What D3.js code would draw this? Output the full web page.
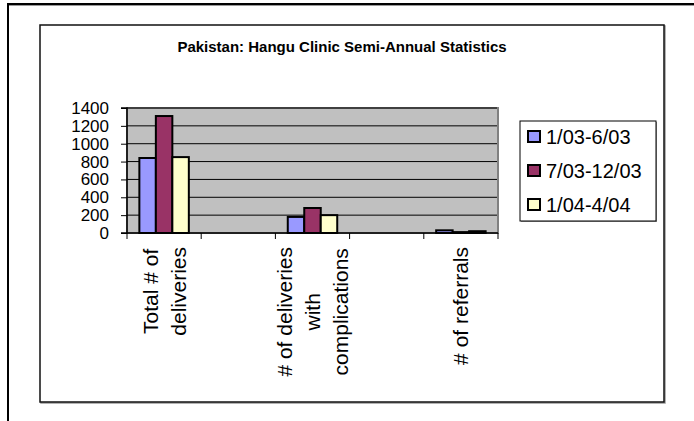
<!DOCTYPE html>
<html><head><meta charset="utf-8">
<script src="https://cdn.jsdelivr.net/npm/d3@7"></script>
<style>body{margin:0;background:#fff;} svg{display:block;font-family:Arial,"Liberation Sans",sans-serif;}</style>
</head><body>
<svg id="c" width="694" height="421"></svg>
<script>
const title = "Pakistan: Hangu Clinic Semi-Annual Statistics";
const categories = ["Total # of\ndeliveries", "gap1", "# of deliveries\nwith\ncomplications", "gap2", "# of referrals"];
const categoryLabels = [["Total # of","deliveries"], [], ["# of deliveries","with","complications"], [], ["# of referrals"]];
const seriesNames = ["1/03-6/03", "7/03-12/03", "1/04-4/04"];
const seriesColors = ["#9999FF", "#993366", "#FFFFCC"];
const values1 = [840, null, 180, null, 30];
const values2 = [1310, null, 280, null, 10];
const values3 = [850, null, 200, null, 20];
const yTicks = [0, 200, 400, 600, 800, 1000, 1200, 1400];

const seriesValues = [values1, values2, values3];
const svg = d3.select("#c");

// outer frame
svg.append("line").attr("x1",8).attr("y1",5).attr("x2",694).attr("y2",5).attr("stroke","#999").attr("stroke-width",2);
svg.append("line").attr("x1",8).attr("y1",4).attr("x2",694).attr("y2",4).attr("stroke","#000").attr("stroke-width",2);
svg.append("line").attr("x1",8).attr("y1",3).attr("x2",8).attr("y2",421).attr("stroke","#000").attr("stroke-width",2);

// inner chart box
svg.append("rect").attr("x",41).attr("y",26).attr("width",624).attr("height",377).attr("fill","none").attr("stroke","#999").attr("stroke-width",1.5);
svg.append("rect").attr("x",40).attr("y",25).attr("width",624).attr("height",377).attr("fill","#fff").attr("stroke","#111").attr("stroke-width",1.5);

// title
svg.append("text").attr("x",342).attr("y",52).attr("text-anchor","middle")
  .attr("font-size",15).attr("font-weight","bold").text(title);

const L = 127, R = 498, T = 108, B = 233;
const x0 = d3.scaleBand().domain(categories).range([L, R]).paddingInner(0).paddingOuter(0);
const bw = x0.bandwidth();
const x1 = d3.scaleBand().domain(seriesNames).range([bw/6, bw*5/6]).padding(0);
const y = d3.scaleLinear().domain([0, 1400]).range([B, T]);

// plot area
svg.append("rect").attr("x",L).attr("y",T).attr("width",R-L).attr("height",B-T)
  .attr("fill","#C0C0C0").attr("stroke","#808080").attr("stroke-width",2);

// gridlines
svg.append("g").selectAll("line").data(yTicks.filter(d=>d>0)).join("line")
  .attr("x1",L).attr("x2",R-1).attr("y1",d=>y(d)).attr("y2",d=>y(d))
  .attr("stroke","#000").attr("stroke-width",1);

// bars
const rows = [];
categories.forEach((c,i)=>seriesNames.forEach((s,j)=>{
  const v = seriesValues[j][i];
  if (v != null) rows.push({c, s, v, color: seriesColors[j]});
}));
svg.append("g").selectAll("rect").data(rows).join("rect")
  .attr("x", d=>x0(d.c)+x1(d.s)).attr("width", x1.bandwidth())
  .attr("y", d=>y(d.v)).attr("height", d=>B - y(d.v))
  .attr("fill", d=>d.color).attr("stroke","#000").attr("stroke-width",2);

// y axis
const yAxis = d3.axisLeft(y).tickValues(yTicks).tickSize(6).tickPadding(12).tickFormat(d3.format("d"));
const gy = svg.append("g").attr("transform",`translate(${L},0)`).call(yAxis);
gy.select(".domain").attr("stroke","#000").attr("stroke-width",1.5).attr("d",`M-6,${T}H0V${B}H-6`);
gy.selectAll(".tick line").attr("stroke","#000");
gy.selectAll(".tick text").attr("font-size",17).attr("font-family","Arial, 'Liberation Sans', sans-serif").attr("fill","#000");

// x axis
const xTickPos = categories.map(c=>x0(c)).concat([R]);
const gx = svg.append("g");
gx.append("line").attr("x1",L).attr("x2",R).attr("y1",B).attr("y2",B).attr("stroke","#000").attr("stroke-width",1.5);
gx.selectAll("line.t").data(xTickPos).join("line").attr("class","t")
  .attr("x1",d=>d).attr("x2",d=>d).attr("y1",B).attr("y2",B+6).attr("stroke","#000");

// category labels (rotated, multi-line centered)
const lineGap = 28, labelTop = 247, catFont = 21;
categories.forEach((c,i)=>{
  const lines = categoryLabels[i];
  if (!lines.length) return;
  const cx = x0(c) + bw/2;
  const g = svg.append("g");
  const texts = lines.map((t,k)=>g.append("text").attr("font-size",catFont).attr("text-anchor","middle")
     .attr("dominant-baseline","central").text(t));
  const maxW = d3.max(texts, t=>t.node().getComputedTextLength());
  g.attr("transform",`translate(${cx},${labelTop + maxW/2}) rotate(-90)`);
  texts.forEach((t,k)=>t.attr("x",0).attr("y",(k - (lines.length-1)/2)*lineGap));
});

// legend
const lg = svg.append("g");
lg.append("rect").attr("x",521).attr("y",122).attr("width",136).attr("height",100).attr("fill","#999");
lg.append("rect").attr("x",520).attr("y",121).attr("width",136).attr("height",100).attr("fill","#fff").attr("stroke","#000").attr("stroke-width",1);
const legY = d3.scalePoint().domain(seriesNames).range([137, 205]);
seriesNames.forEach((s,j)=>{
  lg.append("rect").attr("x",528).attr("y",legY(s)-6).attr("width",12).attr("height",11)
    .attr("fill",seriesColors[j]).attr("stroke","#000").attr("stroke-width",2);
  lg.append("text").attr("x",546).attr("y",legY(s)).attr("dominant-baseline","central")
    .attr("font-size",20).text(s);
});
</script>
</body></html>
